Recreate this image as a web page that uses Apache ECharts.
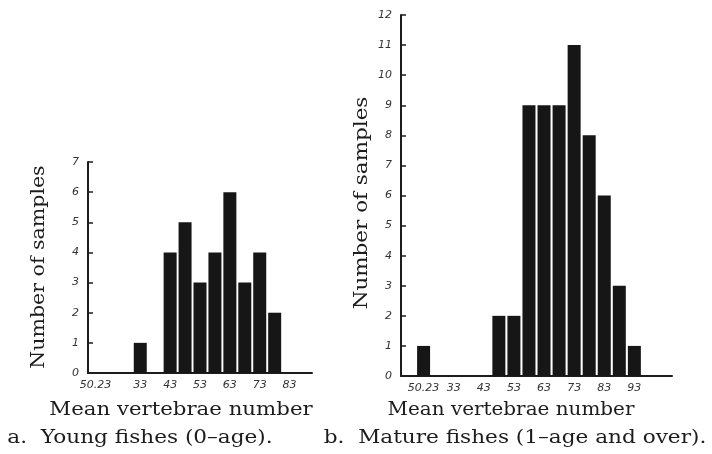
<!DOCTYPE html>
<html>
<head>
<meta charset="utf-8">
<script src="https://cdn.jsdelivr.net/npm/echarts@6/dist/echarts.min.js"></script>
<style>
  html, body { margin: 0; padding: 0; background: #fff; }
  #chart { width: 712px; height: 454px; }
</style>
</head>
<body>
<div id="chart"></div>
<script>
// a. young fishes (0-age), bins of 0.05
const youngLabels = ['50.23', '', '', '33', '', '43', '', '53', '', '63', '', '73', '', '83', '']
const youngCounts = [0, 0, 0, 1, 0, 4, 5, 3, 4, 6, 3, 4, 2, 0, 0]

// b. mature fishes (1-age and over)
const matureLabels = ['', '50.23', '', '33', '', '43', '', '53', '', '63', '', '73', '', '83', '', '93', '', '']
const matureCounts = [0, 1, 0, 0, 0, 0, 2, 2, 9, 9, 9, 11, 8, 6, 3, 1, 0, 0]

const ink = '#1c1c1c'

const chart = echarts.init(document.getElementById('chart'))

function xAxisOf(idx, labels) {
  return {
    type: 'category',
    gridIndex: idx,
    data: labels,
    boundaryGap: true,
    axisTick: { show: false },
    axisLine: { show: true, lineStyle: { color: ink, width: 2 } },
    axisLabel: {
      interval: 0,
      margin: 7,
      fontSize: 11,
      fontStyle: 'italic',
      fontFamily: 'DejaVu Sans',
      color: '#333'
    }
  }
}

function yAxisOf(idx, max) {
  return {
    type: 'value',
    gridIndex: idx,
    min: 0,
    max: max,
    interval: 1,
    splitLine: { show: false },
    axisLine: { show: true, lineStyle: { color: ink, width: 2 } },
    // short ticks pointing into the plot
    axisTick: { show: true, inside: true, length: 5, lineStyle: { color: ink, width: 1.5 } },
    axisLabel: {
      margin: 9,
      fontSize: 11,
      fontStyle: 'italic',
      fontFamily: 'DejaVu Sans',
      color: '#333'
    }
  }
}

// the printed type is wider than DejaVu Serif, so stretch it a little
function label(text, x, y, size, sx, rot) {
  return {
    type: 'text',
    x: x,
    y: y,
    scaleX: sx,
    rotation: rot || 0,
    style: {
      text: text,
      font: size + 'px "DejaVu Serif"',
      fill: ink,
      textAlign: 'center',
      textVerticalAlign: 'middle'
    }
  }
}

const option = {
  backgroundColor: '#fff',
  animation: false,
  grid: [
    { left: 88, top: 162, width: 224, height: 211 },
    { left: 401, top: 15, width: 271, height: 361 }
  ],
  xAxis: [xAxisOf(0, youngLabels), xAxisOf(1, matureLabels)],
  yAxis: [yAxisOf(0, 7), yAxisOf(1, 12)],
  series: [
    {
      type: 'bar',
      xAxisIndex: 0,
      yAxisIndex: 0,
      data: youngCounts,
      barWidth: 13,
      itemStyle: { color: '#161616' }
    },
    {
      type: 'bar',
      xAxisIndex: 1,
      yAxisIndex: 1,
      data: matureCounts,
      barWidth: 13,
      itemStyle: { color: '#161616' }
    }
  ],
  graphic: [
    label('Number of samples', 39, 267, 19, 1.08, Math.PI / 2),
    label('Number of samples', 362, 203, 19, 1.13, Math.PI / 2),
    label('Mean vertebrae number', 181, 410, 19, 1.12),
    label('Mean vertebrae number', 511, 410, 19, 1.05),
    label('a.  Young fishes (0–age).', 140, 438, 18, 1.2),
    label('b.  Mature fishes (1–age and over).', 515, 438, 18, 1.2)
  ]
}

chart.setOption(option)
</script>
</body>
</html>
